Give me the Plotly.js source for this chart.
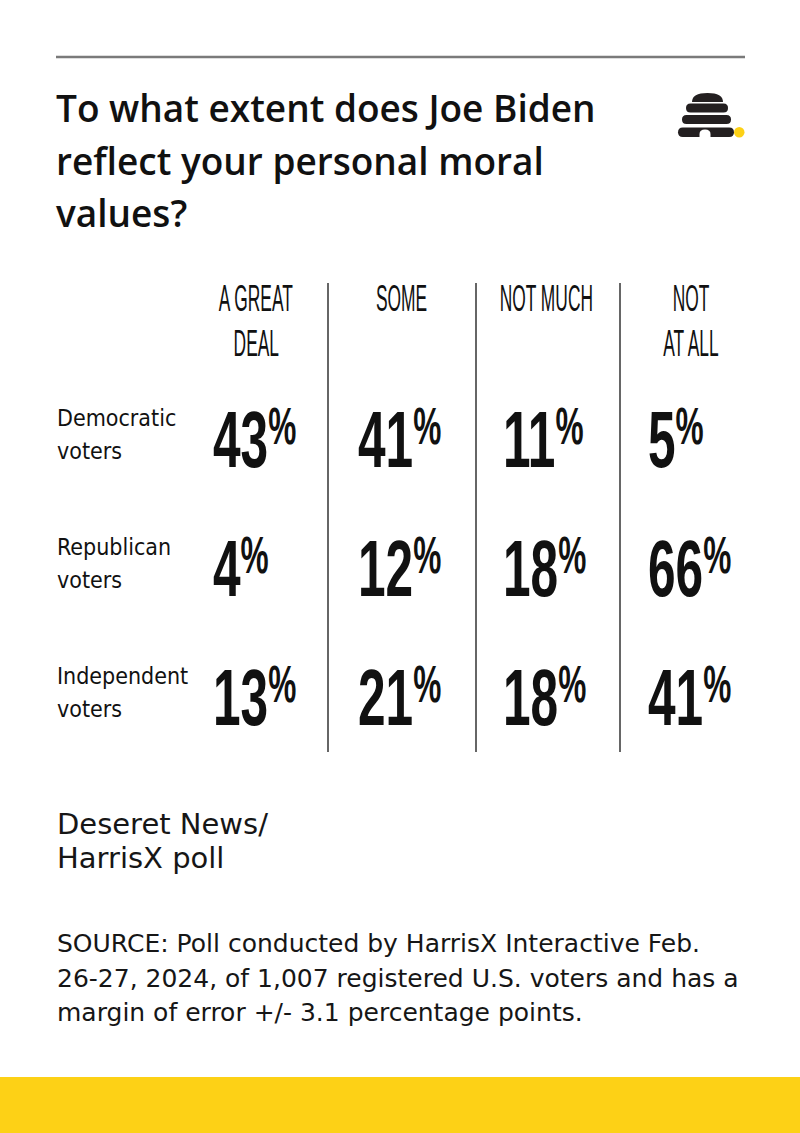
<!DOCTYPE html>
<html><head><meta charset="utf-8">
<script src="https://cdn.plot.ly/plotly-3.0.1.min.js"></script>
<style>html,body{margin:0;padding:0;background:#fff}</style>
</head><body><div id="chart" style="width:800px;height:1133px"></div>
<script>
// ---- data ----
const titleLines = ['To what extent does Joe Biden', 'reflect your personal moral', 'values?'];
const columns = ['A GREAT<br>DEAL', 'SOME', 'NOT MUCH', 'NOT<br>AT ALL'];
const groups = ['Democratic<br>voters', 'Republican<br>voters', 'Independent<br>voters'];
const aGreatDeal = [43, 4, 13];
const some = [41, 12, 21];
const notMuch = [11, 18, 18];
const notAtAll = [5, 66, 41];
const creditLines = ['Deseret News/', 'HarrisX poll'];
const sourceLines = ['SOURCE: Poll conducted by HarrisX Interactive Feb.',
  '26-27, 2024, of 1,007 registered U.S. voters and has a',
  'margin of error +/- 3.1 percentage points.'];

// ---- helpers (pixel -> paper) ----
const W = 800, H = 1133;
const PX = x => x / W, PY = y => 1 - y / H;
const ARIAL = '"Liberation Sans", Arial, sans-serif';
const COND = '"DejaVu Sans Condensed", "Liberation Sans", sans-serif';
const SANS = '"Open Sans", Roboto, sans-serif';
const WIDE = '"DejaVu Sans", sans-serif';

const seriesByColumn = [aGreatDeal, some, notMuch, notAtAll];
const xs = [], ys = [], texts = [];
columns.forEach((c, ci) => {
  groups.forEach((g, gi) => {
    xs.push(c); ys.push(g);
    texts.push(seriesByColumn[ci][gi] + '<span style="font-size:51px;baseline-shift:23px">%</span>');
  });
});

const trace = {
  type: 'scatter', mode: 'text', x: xs, y: ys, text: texts, cliponaxis: false,
  textposition: 'middle right', hoverinfo: 'skip', showlegend: false,
  textfont: {family: ARIAL, size: 80, color: '#111', weight: 700}
};

const annotations = [];
function line(text, xpx, ypx, font) {
  annotations.push({text, xref: 'paper', yref: 'paper', x: PX(xpx), y: PY(ypx),
    xanchor: 'left', yanchor: 'middle', showarrow: false, font, align: 'left'});
}
// title
const titleFont = {family: SANS, size: 37, color: '#111', weight: 600};
titleLines.forEach((t, i) => line(t, 54, 108 + 52 * i, titleFont));
// column headers (one annotation per line, tied to the column category)
const headerIdx = [];
columns.forEach((c) => {
  c.split('<br>').forEach((part, li) => {
    annotations.push({text: part, xref: 'x', x: c, xshift: 43, yref: 'paper', y: PY(298.5 + 45.5 * li),
      xanchor: 'center', yanchor: 'middle', showarrow: false,
      font: {family: ARIAL, size: 37, color: '#111', weight: 400}});
    headerIdx.push(annotations.length - 1);
  });
});
// row labels (one annotation per line, tied to the group category)
groups.forEach(g => {
  g.split('<br>').forEach((part, li) => {
    annotations.push({text: part, xref: 'paper', x: PX(55), yref: 'y', y: g, yshift: li === 0 ? 29 : -4,
      xanchor: 'left', yanchor: 'middle', align: 'left', showarrow: false,
      font: {family: COND, size: 23, color: '#111'}});
  });
});
// credit + source
const creditFont = {family: WIDE, size: 29, color: '#161616', weight: 400};
creditLines.forEach((t, i) => line(t, 55, 823.5 + 34.5 * i, creditFont));
const srcFont = {family: WIDE, size: 25, color: '#161616', weight: 400};
sourceLines.forEach((t, i) => line(t, 55, 943.5 + 34.5 * i, srcFont));

// ---- decorative shapes ----
function path(pts) {
  return pts.map(p => p[0] + (p.length > 1 ? ' ' + p.slice(1).map((v, k) => k % 2 === 0 ? PX(v) : PY(v)).join(',') : '')).join(' ');
}
function band(x1, x2, y1, y2) {
  const r = (y2 - y1) / 2, ym = (y1 + y2) / 2;
  return path([['M', x1 + r, y1], ['L', x2 - r, y1], ['Q', x2, y1, x2, ym], ['Q', x2, y2, x2 - r, y2],
    ['L', x1 + r, y2], ['Q', x1, y2, x1, ym], ['Q', x1, y1, x1 + r, y1], ['Z']]);
}
const shapes = [
  {type: 'line', xref: 'paper', yref: 'paper', x0: PX(56), x1: PX(745), y0: PY(57), y1: PY(57), line: {color: '#7a7a7a', width: 2.5}},
  {type: 'rect', xref: 'paper', yref: 'paper', x0: 0, x1: 1, y0: 0, y1: PY(1077), fillcolor: '#fdd116', line: {width: 0}},
  {type: 'path', xref: 'paper', yref: 'paper', fillcolor: '#231f20', line: {width: 0},
    path: path([['M', 692, 102], ['Q', 692, 93, 707.5, 93], ['Q', 723, 93, 723, 102], ['Z']])},
  {type: 'path', xref: 'paper', yref: 'paper', fillcolor: '#231f20', line: {width: 0}, path: band(686, 728, 103.5, 112.5)},
  {type: 'path', xref: 'paper', yref: 'paper', fillcolor: '#231f20', line: {width: 0}, path: band(682, 731, 115, 124)},
  {type: 'path', xref: 'paper', yref: 'paper', fillcolor: '#231f20', line: {width: 0}, path: band(678, 734, 127.5, 137)},
  {type: 'path', xref: 'paper', yref: 'paper', fillcolor: '#ffffff', line: {width: 0},
    path: path([['M', 699.5, 137.5], ['L', 699.5, 134], ['Q', 699.5, 129.5, 705, 129.5], ['Q', 710.5, 129.5, 710.5, 134], ['L', 710.5, 137.5], ['Z']])},
  {type: 'circle', xref: 'paper', yref: 'paper', x0: PX(734), x1: PX(744.5), y0: PY(127), y1: PY(137.5), fillcolor: '#fdd116', line: {width: 0}}
];
[328, 476, 620].forEach(x => shapes.push({type: 'line', xref: 'paper', yref: 'paper', x0: PX(x), x1: PX(x),
  y0: PY(283), y1: PY(752), line: {color: '#333', width: 1.5}}));

const layout = {
  width: W, height: H, margin: {l: 0, r: 0, t: 0, b: 0},
  paper_bgcolor: '#fff', plot_bgcolor: '#fff', showlegend: false,
  xaxis: {type: 'category', categoryorder: 'array', categoryarray: columns, range: [-0.5, 3.5],
    domain: [140.5 / W, 720.5 / W], visible: false, fixedrange: true},
  yaxis: {type: 'category', categoryorder: 'array', categoryarray: groups, range: [2.5, -0.5],
    domain: [1 - 769.5 / H, 1 - 382.5 / H], visible: false, fixedrange: true},
  annotations, shapes
};

function squeeze(t, s) {
  const x = parseFloat(t.getAttribute('x')) || 0;
  t.setAttribute('transform', `translate(${x},0) scale(${s},1) translate(${-x},0)`);
}
function condense() {
  const gd = document.getElementById('chart');
  gd.querySelectorAll('.textpoint text').forEach(t => squeeze(t, 0.62));
  headerIdx.forEach(i => {
    const t = gd.querySelector(`.annotation[data-index="${i}"] text.annotation-text`);
    if (t) squeeze(t, 0.47);
  });
}
Plotly.newPlot('chart', [trace], layout, {displayModeBar: false, staticPlot: true}).then(gd => {
  condense();
  gd.on('plotly_afterplot', condense);
});
</script></body></html>
